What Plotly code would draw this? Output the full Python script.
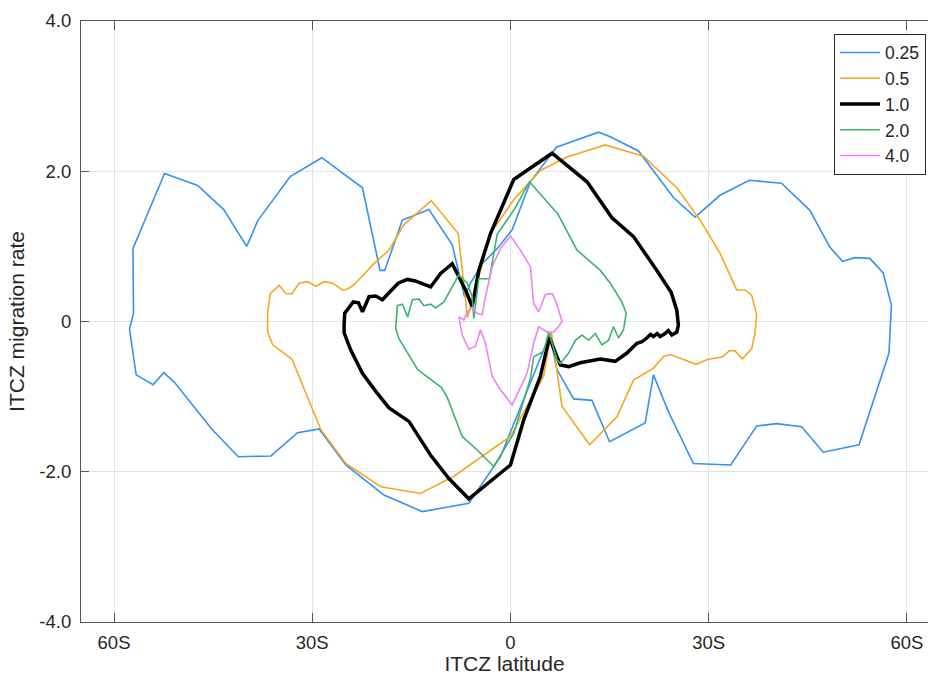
import plotly.graph_objects as go

# ---- data (ITCZ latitude, ITCZ migration rate) per scaling factor ----
lat_025 = [-6.95, -8.81, -12.34, -16.36, -19.03, -19.74, -22.40, -28.55, -33.34, -38.26, -39.92, -43.40,
           -47.33, -52.36, -57.14, -57.05, -57.66, -56.65, -54.08, -52.46, -50.86, -45.21, -41.19, -36.25,
           -32.22, -28.96, -24.92, -19.14, -13.34, -6.30, -1.51, 5.94, 7.05, 9.56, 12.34, 15.0, 20.39,
           21.65, 23.91, 27.69, 33.34, 37.27, 40.29, 44.07, 47.33, 52.76, 57.30, 57.66, 56.39, 54.38,
           52.11, 50.26, 48.34, 45.32, 41.04, 36.15, 31.72, 27.95, 24.67, 19.38, 15.11, 13.34, 6.95,
           3.02, 0.26, -2.01, -4.27, -6.04, -6.95]
rate_025 = [0.33, 1.02, 1.49, 1.35, 0.68, 0.68, 1.78, 2.18, 1.93, 1.34, 1.00, 1.49,
            1.81, 1.97, 0.97, 0.11, -0.10, -0.71, -0.84, -0.68, -0.81, -1.43, -1.80, -1.79,
            -1.48, -1.43, -1.91, -2.31, -2.53, -2.42, -1.80, -0.18, -0.64, -1.03, -1.05, -1.60, -1.35,
            -0.71, -1.20, -1.89, -1.91, -1.39, -1.36, -1.40, -1.74, -1.64, -0.42, 0.22, 0.65, 0.84,
            0.85, 0.80, 0.99, 1.48, 1.84, 1.88, 1.68, 1.39, 1.65, 2.27, 2.46, 2.52, 2.32,
            1.86, 1.22, 0.97, 0.77, 0.51, 0.33]

lat_05 = [-6.50, -7.90, -11.98, -16.12, -18.38, -20.65, -23.67, -24.67, -25.42, -26.93, -28.20, -29.46,
          -30.71, -31.98, -33.08, -33.99, -35.00, -36.36, -36.75, -36.75, -36.00, -33.08, -28.70, -24.92,
          -19.64, -13.60, -8.56, 0.0, 5.03, 6.19, 7.81, 11.98, 16.12, 18.63, 21.65, 23.16, 24.17, 26.69,
          28.10, 29.71, 32.13, 33.13, 33.99, 35.09, 36.51, 37.01, 37.27, 36.51, 35.50, 34.24, 31.72,
          28.70, 25.18, 20.14, 14.35, 8.56, 4.53, 0.50, -3.02, -4.53, -6.04, -6.50]
rate_05 = [0.05, 1.17, 1.61, 1.29, 0.95, 0.77, 0.49, 0.43, 0.42, 0.51, 0.53, 0.47,
           0.53, 0.51, 0.37, 0.37, 0.48, 0.37, 0.11, -0.14, -0.31, -0.50, -1.44, -1.89,
           -2.20, -2.29, -2.06, -1.53, -0.73, -0.14, -1.13, -1.64, -1.27, -0.78, -0.62, -0.47, -0.44, -0.53,
           -0.57, -0.51, -0.47, -0.39, -0.39, -0.50, -0.36, -0.16, 0.09, 0.35, 0.42, 0.42, 0.91,
           1.35, 1.78, 2.20, 2.35, 2.19, 2.01, 1.62, 1.17, 0.68, 0.20, 0.05]

lat_1 = [-5.79, -6.80, -8.81, -10.57, -12.08, -13.2, -14.4, -15.60, -16.99, -18.2, -19.38, -20.39, -21.40,
         -22.40, -23.0, -23.79, -24.6, -25.08, -25.18, -25.18, -24.17, -22.40, -20.39, -18.38, -15.36, -12.08,
         -9.32, -6.30, 0.0, 2.01, 4.53, 5.54, 5.89, 7.55, 8.81, 10.57, 12.0, 13.60, 15.86, 16.8, 17.63,
         19.14, 19.9, 20.65, 21.2, 21.65, 22.2, 22.66, 23.41, 23.9, 24.43, 25.18, 25.42, 25.18, 24.32,
         22.16, 18.63, 15.36, 11.59, 6.30, 0.50, -3.02, -4.79, -5.79]
rate_1 = [0.20, 0.42, 0.77, 0.64, 0.46, 0.50, 0.54, 0.56, 0.51, 0.40, 0.29, 0.34, 0.33,
          0.13, 0.25, 0.26, 0.17, 0.11, -0.05, -0.15, -0.38, -0.69, -0.93, -1.15, -1.33, -1.78,
          -2.09, -2.36, -1.91, -1.31, -0.73, -0.34, -0.21, -0.58, -0.60, -0.55, -0.53, -0.50, -0.53, -0.47, -0.42,
          -0.29, -0.27, -0.22, -0.17, -0.20, -0.16, -0.20, -0.16, -0.12, -0.18, -0.14, -0.05, 0.15, 0.39,
          0.68, 1.13, 1.38, 1.86, 2.24, 1.89, 1.17, 0.68, 0.20]

lat_2 = [-5.54, -5.79, -6.54, -7.81, -10.08, -11.33, -12.08, -13.10, -13.85, -14.85, -15.56, -16.36,
         -17.11, -17.37, -16.87, -14.05, -10.42, -9.52, -7.30, -5.03, -2.52, 0.50, 3.02, 3.52, 5.03,
         5.79, 7.05, 7.55, 8.81, 9.82, 10.83, 11.83, 12.84, 13.85, 14.85, 15.60, 16.36, 17.11, 17.52,
         16.87, 15.11, 13.60, 10.08, 7.18, 2.87, 0.50, -2.01, -3.17, -4.79, -5.54]
rate_2 = [0.04, 0.33, 0.51, 0.62, 0.26, 0.18, 0.23, 0.21, 0.30, 0.29, 0.06, 0.23,
          0.21, -0.09, -0.23, -0.64, -0.88, -1.02, -1.53, -1.71, -1.93, -1.49, -0.76, -0.47, -0.40,
          -0.14, -0.51, -0.56, -0.42, -0.25, -0.18, -0.25, -0.16, -0.31, -0.25, -0.07, -0.22, -0.11, 0.11,
          0.26, 0.51, 0.68, 0.95, 1.43, 1.86, 1.48, 1.16, 0.57, 0.57, 0.04]

lat_4 = [-7.81, -7.05, -6.54, -5.79, -5.03, -4.27, -3.78, -2.76, -1.51, 0.0, 1.51, 3.02, 3.28, 3.52,
         4.27, 5.29, 6.34, 7.05, 7.81, 7.25, 6.54, 5.54, 4.27, 3.52, 2.52, 0.26, -1.51, -2.76, -3.78,
         -4.53, -5.29, -6.30, -7.30, -7.81]
rate_4 = [0.06, 0.02, 0.13, 0.18, 0.11, 0.09, 0.33, 0.73, 0.97, 1.14, 0.95, 0.73, 0.46, 0.24,
          0.13, 0.36, 0.37, 0.22, 0.00, -0.07, -0.14, -0.14, -0.07, -0.29, -0.69, -1.11, -0.91, -0.73, -0.29,
          -0.11, -0.33, -0.37, -0.18, 0.06]

series_names = ["0.25", "0.5", "1.0", "2.0", "4.0"]
series_lat = [lat_025, lat_05, lat_1, lat_2, lat_4]
series_rate = [rate_025, rate_05, rate_1, rate_2, rate_4]
series_colors = ["#3393ee", "#f5a623", "#000000", "#3cb371", "#ee82ee"]
series_widths = [1.6, 1.6, 3.5, 1.6, 1.6]

x_tickvals = [-60, -30, 0, 30, 60]
x_ticktext = ["60S", "30S", "0", "30S", "60S"]
y_tickvals = [-4, -2, 0, 2, 4]
y_ticktext = ["-4.0", "-2.0", "0", "2.0", "4.0"]

fig = go.Figure()
for name, xs, ys, c, w in zip(series_names, series_lat, series_rate, series_colors, series_widths):
    fig.add_trace(go.Scatter(x=xs, y=ys, mode="lines", name=name,
                             line=dict(color=c, width=w)))

font_family = "Liberation Sans, Arial, sans-serif"
fig.update_layout(
    width=928, height=675,
    margin=dict(l=81, r=0, t=21, b=53),
    plot_bgcolor="white", paper_bgcolor="white",
    font=dict(family=font_family, size=18.5, color="#262626"),
    showlegend=True,
    legend=dict(x=0.9976, xanchor="right", y=0.979, yanchor="top",
                bgcolor="white", bordercolor="#262626", borderwidth=1,
                font=dict(size=17.5, color="#262626"),
                tracegroupgap=0, itemwidth=40),
)
fig.update_xaxes(
    range=[-65, 63.2], tickvals=x_tickvals, ticktext=x_ticktext,
    showgrid=True, gridcolor="#e3e3e3", gridwidth=1,
    zeroline=False, showline=True, linecolor="#555555", linewidth=1.2,
    mirror="ticks", ticks="inside", ticklen=9, tickcolor="#555555", tickwidth=1.2,
    ticklabelstandoff=4,
    title=dict(text="ITCZ latitude", font=dict(size=21, color="#262626"), standoff=4),
)
fig.update_yaxes(
    range=[-4, 4], tickvals=y_tickvals, ticktext=y_ticktext,
    showgrid=True, gridcolor="#e3e3e3", gridwidth=1,
    zeroline=False, showline=True, linecolor="#555555", linewidth=1.2,
    mirror=False, ticks="inside", ticklen=8, tickcolor="#555555", tickwidth=1.2,
    ticklabelstandoff=5,
    title=dict(text="ITCZ migration rate", font=dict(size=21, color="#262626"), standoff=8),
)

fig.write_html("out.html")
